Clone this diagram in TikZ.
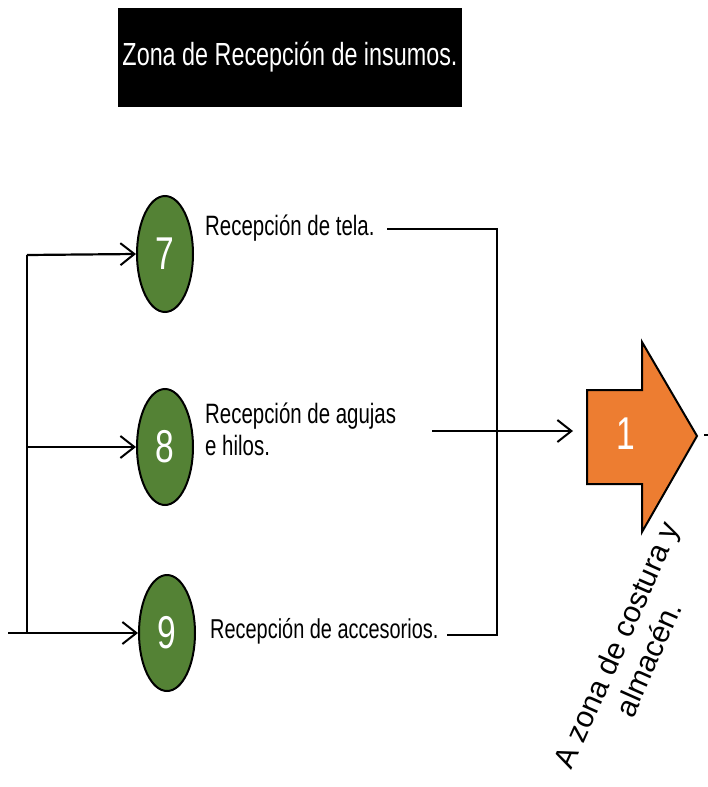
\documentclass[tikz,border=0pt]{standalone}
\usepackage{fontspec}
\setmainfont{Liberation Sans}[FakeStretch=0.73]
\newfontfamily\rotfont{Liberation Sans}
\usetikzlibrary{shapes.geometric,arrows.meta}
\definecolor{stepgreen}{HTML}{548235}
\definecolor{arroworange}{HTML}{ED7D31}
\begin{document}
\begin{tikzpicture}[x=1pt,y=-1pt,
  stepnode/.style={ellipse,draw=black,line width=2pt,fill=stepgreen,
    minimum width=56pt,minimum height=116pt,inner sep=0pt,text=white,
    font=\fontsize{46}{46}\selectfont},
  lbl/.style={anchor=base west,inner sep=0pt,font=\fontsize{28}{32}\selectfont,align=left},
  conn/.style={line width=2.2pt},
  arr/.style={conn,-{Straight Barb[length=14pt,width=22pt,line width=2pt]}}
]
\useasboundingbox (0,0) rectangle (708,787);
% title
\node[fill=black,minimum width=344pt,minimum height=99pt,inner sep=0pt,
  text=white,font=\fontsize{32}{32}\selectfont] (title) at (290,57.5) {Zona de Recepción de insumos.};
% steps
\node[stepnode] (e7) at (165,254) {7};
\node[stepnode] (e8) at (165,447) {8};
\node[stepnode] (e9) at (167,633) {9};
% labels
\node[lbl] (l7) at (205,235) {Recepción de tela.};
\node[lbl] (l8) at (205,455) {Recepción de agujas\\e hilos.};
\node[lbl,font=\fontsize{27.3}{32}\selectfont] (l9) at (210,638) {Recepción de accesorios.};
% left connectors
\coordinate (in) at (8,633);
\coordinate (j7) at (27,255);
\coordinate (j8) at (27,447);
\coordinate (j9) at (27,633);
\draw[conn] (j7) -- (j9);
\draw[arr] (j7) -- (e7.west);
\draw[arr] (j8) -- (e8.west);
\draw[arr] (in) -- (e9.west);
% right connectors
\coordinate (s7) at (387,229);
\coordinate (c7) at (497,229);
\coordinate (c9) at (497,635);
\coordinate (s9) at (447,635);
\coordinate (s8) at (432,431);
\coordinate (t8) at (573,431);
\draw[conn] (s7) -- (c7) -- (c9) -- (s9);
\draw[arr] (s8) -- (t8);
% big arrow
\draw[line width=2pt,fill=arroworange] (587,390) -- (642,390) -- (642,342) -- (697,436)
  -- (642,532) -- (642,484) -- (587,484) -- cycle;
\node[text=white,font=\fontsize{46}{46}\selectfont] (one) at (626,434) {1};
\coordinate (o1) at (704,435);
\coordinate (o2) at (710,435);
\draw[conn] (o1) -- (o2);
% rotated text
\node[rotate=66,align=center,inner sep=0pt,font=\rotfont\fontsize{30}{35}\selectfont] (dest) at (632,652)
  {A zona de costura y\\almacén.};
\end{tikzpicture}
\end{document}
